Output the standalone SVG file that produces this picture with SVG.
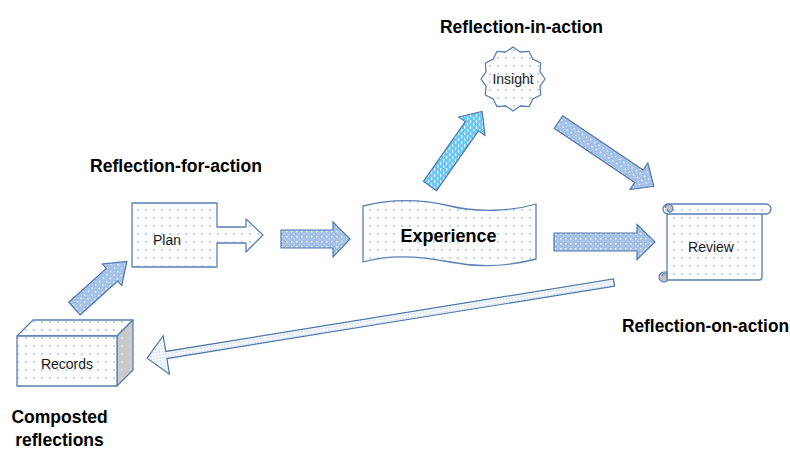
<svg xmlns="http://www.w3.org/2000/svg" width="790" height="451" viewBox="0 0 790 451">
<defs>
  <pattern id="dots" patternUnits="userSpaceOnUse" width="8" height="8">
    <rect width="8" height="8" fill="#ffffff"/>
    <circle cx="2" cy="2" r="0.9" fill="#9cc0e8"/>
  </pattern>
  <pattern id="dotsGray" patternUnits="userSpaceOnUse" width="8" height="8">
    <rect width="8" height="8" fill="#c9c9c9"/>
    <circle cx="2" cy="2" r="0.9" fill="#e0e0e0"/>
  </pattern>
  <pattern id="blueFill" patternUnits="userSpaceOnUse" width="5" height="5">
    <rect width="5" height="5" fill="#a2c0e6"/>
    <rect x="1" y="1" width="1.4" height="1.4" fill="#ffffff"/>
    <rect x="3.5" y="3.5" width="0.9" height="0.9" fill="#dce8f6"/>
  </pattern>
  <pattern id="cyanFill" patternUnits="userSpaceOnUse" width="6" height="6" patternTransform="rotate(-35)">
    <rect width="6" height="6" fill="#6cc8f2"/>
    <rect x="0" y="1" width="3" height="1.2" fill="#ffffff"/>
    <rect x="3" y="4" width="3" height="1.2" fill="#e6f6fd"/>
  </pattern>
  <pattern id="fineDots" patternUnits="userSpaceOnUse" width="3" height="3">
    <rect width="3" height="3" fill="#ffffff"/>
    <circle cx="1" cy="1" r="0.7" fill="#8fb4dc"/>
  </pattern>
  <style>
    .node { fill: url(#dots); stroke: #5a7fb5; stroke-width: 1.3; stroke-linejoin: round; }
    .arrow { fill: url(#blueFill); stroke: #4f77ad; stroke-width: 1.2; stroke-linejoin: miter; }
    .cyan { fill: url(#cyanFill); stroke: #4f77ad; stroke-width: 1.2; }
    .thin { fill: url(#fineDots); stroke: #4f77ad; stroke-width: 1.2; }
    .lbl { font-family: "Liberation Sans", Arial, sans-serif; font-weight: bold; font-size: 17.5px; fill: #000; text-anchor: middle; }
    .nt { font-family: "Liberation Sans", Arial, sans-serif; font-size: 14px; fill: #1a1a1a; text-anchor: middle; }
  </style>
</defs>
<rect width="790" height="451" fill="#ffffff"/>

<g id="connectors">
  <polygon class="arrow" transform="translate(74.5,308.5) rotate(-42)" points="0,-8.5 50.5,-8.5 50.5,-14.5 70.5,0 50.5,14.5 50.5,8.5 0,8.5"/>
  <polygon class="arrow" points="281,230 333,230 333,222 350,239 333,257 333,248 281,248"/>
  <polygon class="arrow" transform="translate(554,242)" points="0,-9 83,-9 83,-17.5 101,0 83,17.5 83,9 0,9"/>
  <polygon class="cyan" transform="translate(430,186) rotate(-55)" points="0,-8 73,-8 73,-16 91,0 73,16 73,8 0,8"/>
  <polygon class="arrow" transform="translate(558.5,122) rotate(34)" points="0,-7.5 97,-7.5 97,-16 115,0 97,16 97,7.5 0,7.5"/>
  <polygon class="thin" transform="translate(614,282.5) rotate(170.8)" points="0,-3.6 453.5,-3.6 453.5,-19.5 473,0 453.5,19.5 453.5,3.6 0,3.6"/>
</g>

<g id="plan">
  <path class="node" d="M132,203 H217 V227 H246 V219 L263,235 L246,252 V243 H217 V267 H132 Z"/>
  <text class="nt" x="167" y="245">Plan</text>
</g>

<g id="experience">
  <path class="node" d="M363,206 C395,198 425,200 450,206 S510,212 536,204 V259 C510,266 480,268 450,262 S390,254 363,262 Z"/>
  <text class="nt" x="448.5" y="242" style="font-weight:bold;font-size:18px;fill:#000">Experience</text>
</g>

<g id="insight">
  <polygon class="node" points="513.0,47.0 520.2,52.0 529.0,51.3 532.9,59.2 540.7,63.0 540.0,71.8 545.0,79.0 540.0,86.2 540.7,95.0 532.9,98.8 529.0,106.7 520.2,106.0 513.0,111.0 505.8,106.0 497.0,106.7 493.1,98.8 485.3,95.0 486.0,86.2 481.0,79.0 486.0,71.8 485.3,63.0 493.1,59.2 497.0,51.3 505.8,52.0"/>
  <text class="nt" x="513" y="84">Insight</text>
</g>

<g id="review">
  <path class="node" d="M667,209 H762 V277 Q762,280 759,280 H667 Z"/>
  <rect class="node" x="663" y="204" width="108" height="10" rx="5"/>
  <path d="M665,208 A4,4 0 1 1 672,211 A2.5,2.5 0 0 1 667.5,209" fill="#c0c0c0" stroke="#5a7fb5" stroke-width="1.2"/>
  <path d="M667,272 H664 A5,5 0 1 0 667,281 Z" fill="#c0c0c0" stroke="#5a7fb5" stroke-width="1.2"/>
  <path d="M662,276 A2.5,2.5 0 0 1 667,276" fill="none" stroke="#5a7fb5" stroke-width="1"/>
  <text class="nt" x="711" y="252">Review</text>
</g>

<g id="records">
  <polygon class="node" points="17,336 33,320 133,320 117,336"/>
  <polygon points="117,336 133,320 133,370 117,386" fill="url(#dotsGray)" stroke="#5a7fb5" stroke-width="1.3" stroke-linejoin="round"/>
  <rect class="node" x="17" y="336" width="100" height="50"/>
  <text class="nt" x="67" y="369">Records</text>
</g>

<g id="labels">
  <text class="lbl" x="521.5" y="32.5" textLength="163" lengthAdjust="spacingAndGlyphs">Reflection-in-action</text>
  <text class="lbl" x="176" y="172" textLength="172" lengthAdjust="spacingAndGlyphs">Reflection-for-action</text>
  <text class="lbl" x="705.5" y="332" textLength="167" lengthAdjust="spacingAndGlyphs">Reflection-on-action</text>
  <text class="lbl" x="59.5" y="423">Composted</text>
  <text class="lbl" x="59.5" y="446">reflections</text>
</g>
</svg>
